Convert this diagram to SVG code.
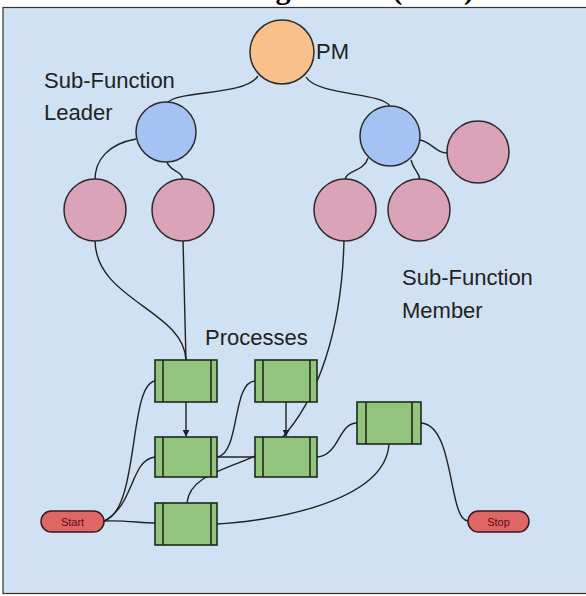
<svg xmlns="http://www.w3.org/2000/svg" width="586" height="596" viewBox="0 0 586 596">
  <defs>
    <marker id="arrow" viewBox="0 0 10 10" refX="9" refY="5" markerWidth="7" markerHeight="7" orient="auto" markerUnits="userSpaceOnUse">
      <path d="M0,0 L10,5 L0,10 z" fill="#222"/>
    </marker>
  </defs>
  <style>
    .title { font-family: "Liberation Serif", "Times New Roman", serif; font-weight: bold; font-size: 30px; fill: #000; }
    .lbl { font-family: "Liberation Sans", Arial, sans-serif; font-size: 22px; fill: #222; }
    .pill-text { font-family: "Liberation Sans", Arial, sans-serif; font-size: 11px; fill: #5a0d0d; text-anchor: middle; }
    .node { stroke: #2b2b2b; stroke-width: 1.5; }
    .pm { fill: #f8c08a; }
    .leader { fill: #a4c2f4; }
    .member { fill: #dba3b8; }
    .proc { fill: #93c47d; stroke: #1f2a1a; stroke-width: 1.6; }
    .bar { stroke: #1f2a1a; stroke-width: 1.6; }
    .pill { fill: #e06666; stroke: #3a1a1a; stroke-width: 1.5; }
    .edge { fill: none; stroke: #222; stroke-width: 1.4; }
  </style>

  <!-- page background and heading cut at top edge -->
  <rect x="0" y="0" width="586" height="596" fill="#ffffff"/>
  <text class="title" x="38" y="-1">Sub-Function Design Team (TBD)</text>

  <!-- panel -->
  <rect x="3" y="7.5" width="600" height="586" fill="#cfe1f2" stroke="#333" stroke-width="1.2"/>

  <!-- connectors -->
  <g id="connectors">
    <!-- PM to leaders -->
    <path class="edge" d="M258,76 C245,96 178,90 167,103"/>
    <path class="edge" d="M306,77 C318,96 380,92 390,106"/>
    <!-- left leader to members -->
    <path class="edge" d="M136,139 C108,144 95,160 95,180"/>
    <path class="edge" d="M167,162 C170,172 182,170 183,180"/>
    <!-- right leader to members -->
    <path class="edge" d="M368,158 C364,172 346,170 345,180"/>
    <path class="edge" d="M411,160 C414,172 420,172 420,181"/>
    <path class="edge" d="M420,140 C432,142 436,154 449,153"/>
    <!-- members to processes -->
    <path class="edge" d="M95,240 C95,300 184,310 186,360"/>
    <path class="edge" d="M183,240 L186,360"/>
    <path class="edge" d="M344,240 C342,330 318,400 280,440 C250,468 190,468 187,503"/>
    <!-- process flow -->
    <path class="edge" d="M186,402 L186,436" marker-end="url(#arrow)"/>
    <path class="edge" d="M286,402 L286,436" marker-end="url(#arrow)"/>
    <path class="edge" d="M217,457 L255,457"/>
    <path class="edge" d="M218,457 C240,452 232,382 255,381"/>
    <path class="edge" d="M317,457 C340,455 338,423 357,423"/>
    <path class="edge" d="M389,444 C385,505 260,522 217,524"/>
    <path class="edge" d="M421,423 C455,425 448,520 468,521"/>
    <!-- start to processes -->
    <path class="edge" d="M104,521 C140,510 128,385 155,381"/>
    <path class="edge" d="M104,521 C135,505 130,460 155,457"/>
    <path class="edge" d="M104,521 C125,520 140,523 155,523"/>
  </g>

  <!-- people -->
  <g id="pm">
    <circle class="node pm" cx="282" cy="52" r="32"/>
    <text class="lbl" x="316" y="59">PM</text>
  </g>
  <g id="leader-left">
    <circle class="node leader" cx="166" cy="132" r="30"/>
  </g>
  <g id="leader-right">
    <circle class="node leader" cx="390" cy="136" r="30"/>
  </g>
  <g id="leader-label">
    <text class="lbl" x="44" y="88">Sub-Function</text>
    <text class="lbl" x="44" y="120">Leader</text>
  </g>
  <g id="member-1"><circle class="node member" cx="95" cy="210" r="31"/></g>
  <g id="member-2"><circle class="node member" cx="183" cy="210" r="31"/></g>
  <g id="member-3"><circle class="node member" cx="345" cy="210" r="31"/></g>
  <g id="member-4"><circle class="node member" cx="419" cy="210" r="31"/></g>
  <g id="member-5"><circle class="node member" cx="478" cy="152" r="31"/></g>
  <g id="member-label">
    <text class="lbl" x="402" y="285">Sub-Function</text>
    <text class="lbl" x="402" y="318">Member</text>
  </g>

  <!-- processes -->
  <g id="processes-label">
    <text class="lbl" x="205" y="345">Processes</text>
  </g>
  <g id="proc-1">
    <rect class="proc" x="155" y="360" width="62" height="42"/>
    <line class="bar" x1="163" y1="360" x2="163" y2="402"/>
    <line class="bar" x1="211" y1="360" x2="211" y2="402"/>
  </g>
  <g id="proc-2">
    <rect class="proc" x="255" y="360" width="62" height="42"/>
    <line class="bar" x1="263" y1="360" x2="263" y2="402"/>
    <line class="bar" x1="310" y1="360" x2="310" y2="402"/>
  </g>
  <g id="proc-3">
    <rect class="proc" x="155" y="437" width="62" height="40"/>
    <line class="bar" x1="163" y1="437" x2="163" y2="477"/>
    <line class="bar" x1="211" y1="437" x2="211" y2="477"/>
  </g>
  <g id="proc-4">
    <rect class="proc" x="255" y="437" width="62" height="40"/>
    <line class="bar" x1="263" y1="437" x2="263" y2="477"/>
    <line class="bar" x1="310" y1="437" x2="310" y2="477"/>
  </g>
  <g id="proc-5">
    <rect class="proc" x="155" y="503" width="62" height="42"/>
    <line class="bar" x1="163" y1="503" x2="163" y2="545"/>
    <line class="bar" x1="211" y1="503" x2="211" y2="545"/>
  </g>
  <g id="proc-6">
    <rect class="proc" x="357" y="402" width="64" height="42"/>
    <line class="bar" x1="366" y1="402" x2="366" y2="444"/>
    <line class="bar" x1="412" y1="402" x2="412" y2="444"/>
  </g>

  <!-- terminals -->
  <g id="start">
    <rect class="pill" x="41" y="511" width="63" height="21" rx="10.5"/>
    <text class="pill-text" x="72.5" y="525.5">Start</text>
  </g>
  <g id="stop">
    <rect class="pill" x="468" y="511" width="61" height="21" rx="10.5"/>
    <text class="pill-text" x="498.5" y="525.5">Stop</text>
  </g>
</svg>
